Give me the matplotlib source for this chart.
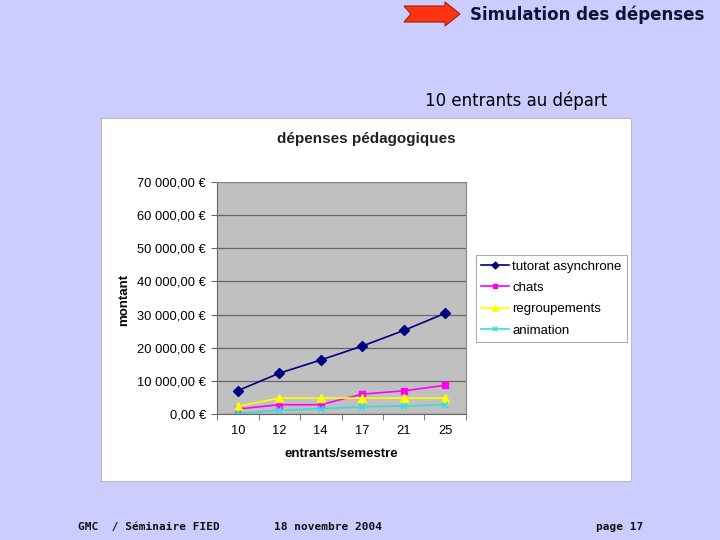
import matplotlib
matplotlib.use("Agg")
import matplotlib.pyplot as plt
from matplotlib.patches import Rectangle, Polygon
from matplotlib.ticker import FuncFormatter, FixedLocator

# ---- data ----
categories = ["10", "12", "14", "17", "21", "25"]
tutorat = [7050, 12300, 16300, 20500, 25200, 30400]
chats = [1500, 2800, 2800, 6000, 7000, 8650]
regroupements = [2300, 4800, 4800, 4800, 4800, 4800]
animation = [200, 1100, 1600, 2200, 2400, 2800]

series_names = ["tutorat asynchrone", "chats", "regroupements", "animation"]

W, H = 720, 540
fig = plt.figure(figsize=(W / 100, H / 100), dpi=100)
fig.patch.set_facecolor("#CCCCFF")


def fx(px):
    return px / W


def fy(py):
    return 1 - py / H


# header arrow + titles
arrow_pts = [(404, 6), (445, 6), (445, 2), (460, 14), (445, 26), (445, 22), (404, 22), (411, 14)]
fig.patches.append(Polygon([(fx(x), fy(y)) for x, y in arrow_pts], closed=True,
                           transform=fig.transFigure, facecolor="#FF3311",
                           edgecolor="#992200", lw=0.8))
fig.text(fx(704), fy(15), "Simulation des dépenses", ha="right", va="center",
         fontsize=12, fontweight="bold", family="DejaVu Sans", color="#111133")
fig.text(fx(607), fy(101), "10 entrants au départ", ha="right", va="center",
         fontsize=12, family="DejaVu Sans", color="black")

# white chart panel (behind the axes)
fig.patches.append(Rectangle((fx(101), fy(481)), fx(530), 363 / H, transform=fig.transFigure,
                             facecolor="white", edgecolor="#BBBBBB", lw=0.8, zorder=-1))

ax = fig.add_axes([fx(217), fy(414), fx(249), 232 / H])
ax.set_zorder(2)
ax.set_facecolor("#C0C0C0")

x = list(range(len(categories)))
ax.plot(x, tutorat, color="#000080", marker="D", markersize=5, lw=1.2, label=series_names[0])
ax.plot(x, chats, color="#FF00FF", marker="s", markersize=5, lw=1.2, label=series_names[1])
ax.plot(x, regroupements, color="#FFFF00", marker="^", markersize=6, lw=1.2, label=series_names[2])
ax.plot(x, animation, color="#33DDDD", marker="x", markersize=5, mew=1.2, lw=1.2, label=series_names[3])

ax.set_xlim(-0.5, len(categories) - 0.5)
ax.set_ylim(0, 70000)
ax.set_yticks(range(0, 70001, 10000))
ax.yaxis.set_major_formatter(FuncFormatter(
    lambda v, p: f"{int(v):,}".replace(",", " ") + ",00 €"))
ax.grid(axis="y", color="#666666", lw=0.9)
ax.set_axisbelow(True)

ax.set_xticks(x)
ax.set_xticklabels(categories)
ax.xaxis.set_minor_locator(FixedLocator([i - 0.5 for i in range(len(categories) + 1)]))
ax.tick_params(axis="x", which="major", length=0, pad=8)
ax.tick_params(axis="x", which="minor", length=4, color="#666666")
ax.tick_params(axis="y", length=4, color="#666666", pad=4)

for lab in ax.get_xticklabels() + ax.get_yticklabels():
    lab.set_family("Liberation Sans")
    lab.set_fontsize(9.3)

for s in ["top", "right"]:
    ax.spines[s].set_color("#888888")
for s in ["left", "bottom"]:
    ax.spines[s].set_color("#666666")

ax.set_xlabel("entrants/semestre", family="Liberation Sans", fontweight="bold",
              fontsize=9.5, labelpad=8)
fig.text(fx(124), fy(300), "montant", rotation=90, ha="center", va="center",
         family="Liberation Sans", fontweight="bold", fontsize=9.5)
fig.text(fx(366), fy(139), "dépenses pédagogiques", ha="center", va="center",
         family="Liberation Sans", fontweight="bold", fontsize=11, color="#222222")

leg = fig.legend(*ax.get_legend_handles_labels(), loc="upper left",
                 bbox_to_anchor=(fx(476), fy(255)),
                 prop={"family": "Liberation Sans", "size": 9.5}, frameon=True,
                 fancybox=False, borderpad=0.4, handlelength=2.1, handletextpad=0.25,
                 labelspacing=0.7, borderaxespad=0, markerscale=0.7)
leg.get_frame().set_edgecolor("#999999")
leg.get_frame().set_linewidth(0.8)
leg.set_zorder(3)

# footer
for xp, txt in [(78, "GMC  / Séminaire FIED"), (274, "18 novembre 2004"), (596, "page 17")]:
    fig.text(fx(xp), fy(527), txt, ha="left", va="center", fontsize=8,
             fontweight="bold", family="DejaVu Sans Mono", color="#111111")

fig.savefig("out.png", dpi=100, facecolor=fig.get_facecolor())
